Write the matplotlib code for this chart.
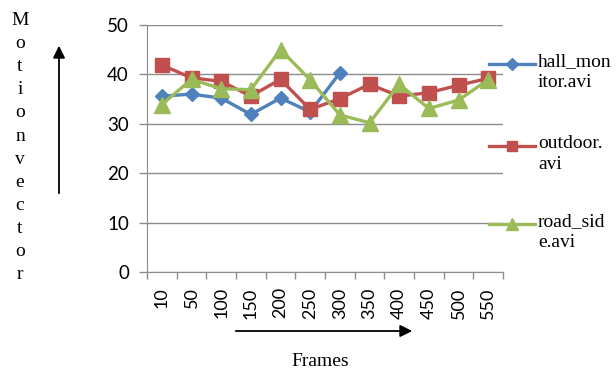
import numpy as np
import matplotlib.pyplot as plt
from matplotlib.lines import Line2D

# data
frames = ['10', '50', '100', '150', '200', '250', '300', '350', '400', '450', '500', '550']
hall_monitor = [35.6, 36.0, 35.2, 31.9, 35.2, 32.4, 40.3]
outdoor = [41.9, 39.3, 38.6, 35.6, 39.0, 32.9, 35.1, 38.0, 35.6, 36.3, 37.8, 39.2]
road_side = [33.9, 39.0, 37.1, 36.9, 45.0, 38.9, 31.8, 30.2, 38.0, 33.1, 34.8, 38.9]
labels = ['hall_mon\nitor.avi', 'outdoor.\navi', 'road_sid\ne.avi']
colors = ['#4F81BD', '#C0504D', '#9BBB59']
markers = ['D', 's', '^']
msizes = [7.5, 9.5, 11]

W, H = 616, 373
fig = plt.figure(figsize=(W / 100, H / 100), dpi=100)
ax = fig.add_axes([147 / W, 1 - 272 / H, (503 - 147) / W, (272 - 25) / H])

series = [hall_monitor, outdoor, road_side]
x = np.arange(len(frames))
for vals, c, m, ms in zip(series, colors, markers, msizes):
    ax.plot(x[:len(vals)], vals, color=c, lw=2.4, marker=m, ms=ms, mec=c, mfc=c, zorder=3)

ax.set_xlim(-0.5, len(frames) - 0.5)
ax.set_ylim(0, 50)
ax.set_yticks(range(0, 51, 10))
ax.set_xticks(x)
ax.set_xticklabels(frames, rotation=90, fontsize=13, family='Lato')
ax.set_xticks(np.arange(-0.5, len(frames), 1), minor=True)
ax.tick_params(axis='x', which='major', length=0, pad=11)
ax.tick_params(axis='x', which='minor', length=5, color='#8c8c8c', width=1)
ax.tick_params(axis='y', length=6, color='#8c8c8c', width=1, pad=7, labelsize=13.5)
for t in ax.get_yticklabels():
    t.set_family('Lato')
ax.yaxis.grid(True, color='#8c8c8c', lw=1)
ax.set_axisbelow(True)
for s in ['top', 'right']:
    ax.spines[s].set_visible(False)
for s in ['left', 'bottom']:
    ax.spines[s].set_color('#8c8c8c')

# legend drawn by hand so the marker lines up with the first text line
leg_y = [64, 146, 224]
for lab, c, m, ms, yy in zip(labels, colors, markers, msizes, leg_y):
    fy = 1 - yy / H
    fig.add_artist(Line2D([489 / W, 535 / W], [fy, fy], color=c, lw=2.4))
    fig.add_artist(Line2D([512 / W], [fy], color=c, marker=m, ms=ms * 0.8, mec=c, mfc=c))
    fig.text(538 / W, 1 - (yy - 11) / H, lab, family='Liberation Serif', fontsize=14,
             va='top', ha='left', linespacing=1.3)

# axis titles and arrows
fig.text(20 / W, 1 - 12 / H, '\n'.join('Motionvector'), family='Liberation Serif',
         fontsize=14, va='top', ha='center', linespacing=1.47)
ax.annotate('', xy=(59 / W, 1 - 43 / H), xytext=(59 / W, 1 - 196 / H), xycoords='figure fraction',
            arrowprops=dict(arrowstyle='-|>', color='black', lw=1.3, mutation_scale=18))
ax.annotate('', xy=(415 / W, 1 - 331 / H), xytext=(233 / W, 1 - 331 / H), xycoords='figure fraction',
            arrowprops=dict(arrowstyle='-|>', color='black', lw=1.3, mutation_scale=18))
fig.text(320 / W, 1 - 361 / H, 'Frames', family='Liberation Serif', fontsize=14,
         ha='center', va='center')

fig.savefig('out.png', dpi=100)
